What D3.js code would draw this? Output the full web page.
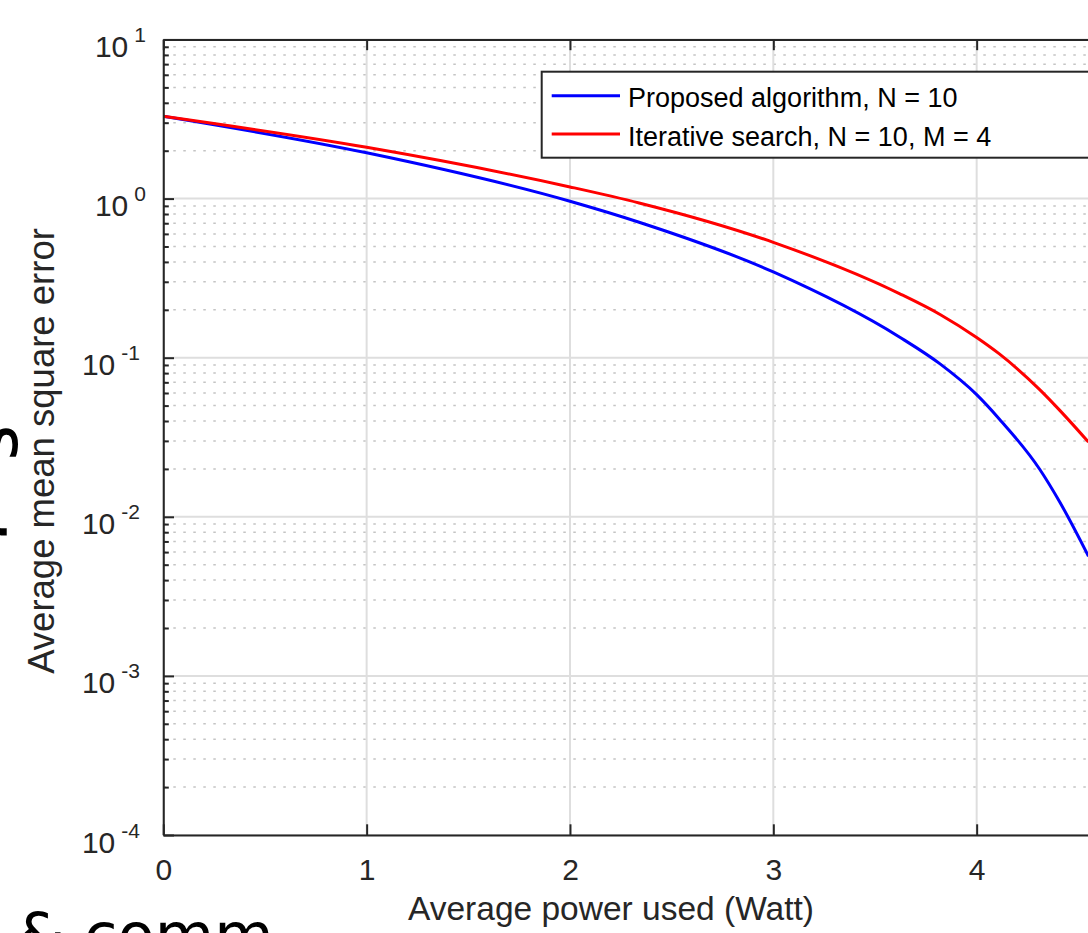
<!DOCTYPE html>
<html>
<head>
<meta charset="utf-8">
<script src="https://cdn.jsdelivr.net/npm/d3@7"></script>
<style>
  body { margin: 0; background: #fff; overflow: hidden; }
  svg { display: block; }
</style>
</head>
<body>
<div id="chartDiv"></div>
<script>

// values
var powerX = [0, 1, 2, 2.34, 3, 3.62, 3.82, 4, 4.11, 4.31, 4.41, 4.55];
var proposedMSE = [3.29, 1.94, 0.962, 0.710, 0.346, 0.135, 0.0914, 0.0586, 0.0414, 0.0199, 0.0123, 0.00565];
var iterativeMSE = [3.29, 2.10, 1.184, 0.939, 0.531, 0.253, 0.187, 0.134, 0.106, 0.0630, 0.0465, 0.0295];

var seriesNames = ["Proposed algorithm, N = 10", "Iterative search, N = 10, M = 4"];
var seriesColors = ["#0000ff", "#ff0000"];
var xTicks = [0, 1, 2, 3, 4];
var yExponents = [-4, -3, -2, -1, 0, 1];

var xLabel = "Average power used (Watt)";
var yLabel = "Average mean square error";

var svg = d3.select("#chartDiv").append("svg")
    .attr("width", 1088)
    .attr("height", 933);

var font = "'Liberation Sans', Arial, Helvetica, sans-serif";
var axisColor = "#262626";

var x_scale = d3.scaleLinear().domain([0, 5]).range([163.3, 1180]);
var y_scale = d3.scaleLog().domain([1e-4, 1e1]).range([835, 39.5]);

var plotLeft = x_scale.range()[0], plotRight = x_scale.range()[1],
    plotTop = y_scale.range()[1], plotBottom = y_scale.range()[0];

var allY = y_scale.ticks();
var majorY = allY.filter(function(v){ return Math.abs(Math.log10(v) - Math.round(Math.log10(v))) < 1e-9; });
var minorY = allY.filter(function(v){ return majorY.indexOf(v) < 0; });

// grid
var grid = svg.append("g").attr("class", "grid");
grid.selectAll(".minor").data(minorY).enter().append("line")
    .attr("x1", plotLeft).attr("x2", plotRight)
    .attr("y1", function(d){ return y_scale(d); })
    .attr("y2", function(d){ return y_scale(d); })
    .attr("stroke", "#c4c4c4")
    .attr("stroke-width", 1.5)
    .attr("stroke-dasharray", "2.5,7.5");
grid.selectAll(".majorh").data(majorY).enter().append("line")
    .attr("x1", plotLeft).attr("x2", plotRight)
    .attr("y1", function(d){ return y_scale(d); })
    .attr("y2", function(d){ return y_scale(d); })
    .attr("stroke", "#dedede")
    .attr("stroke-width", 2);
grid.selectAll(".majorv").data(xTicks).enter().append("line")
    .attr("y1", plotTop).attr("y2", plotBottom)
    .attr("x1", function(d){ return x_scale(d); })
    .attr("x2", function(d){ return x_scale(d); })
    .attr("stroke", "#dedede")
    .attr("stroke-width", 2);

// curves
svg.append("clipPath").attr("id", "plotClip")
  .append("rect").attr("x", plotLeft).attr("y", plotTop)
  .attr("width", plotRight - plotLeft).attr("height", plotBottom - plotTop);

var line = d3.line()
    .x(function(d){ return x_scale(d[0]); })
    .y(function(d){ return y_scale(d[1]); })
    .curve(d3.curveMonotoneX);

[proposedMSE, iterativeMSE].forEach(function(vals, i){
  svg.append("path")
    .datum(powerX.map(function(p, j){ return [p, vals[j]]; }))
    .attr("clip-path", "url(#plotClip)")
    .attr("fill", "none")
    .attr("stroke", seriesColors[i])
    .attr("stroke-width", 3)
    .attr("d", line);
});

// axes
var xAxis = svg.append("g")
    .attr("transform", "translate(0," + plotBottom + ")")
    .call(d3.axisBottom(x_scale).tickValues(xTicks).tickFormat(d3.format("d"))
          .tickSize(-10.7).tickPadding(23.5).tickSizeOuter(0));
var xTop = svg.append("g")
    .attr("transform", "translate(0," + plotTop + ")")
    .call(d3.axisTop(x_scale).tickValues(xTicks).tickSize(-10.7).tickFormat("").tickSizeOuter(0));
var yAxis = svg.append("g")
    .attr("transform", "translate(" + plotLeft + ",0)")
    .call(d3.axisLeft(y_scale).tickValues(majorY).tickSize(-10.7).tickFormat("").tickSizeOuter(0));
var yMinor = svg.append("g")
    .attr("transform", "translate(" + plotLeft + ",0)")
    .call(d3.axisLeft(y_scale).tickValues(minorY).tickSize(-5.5).tickFormat("").tickSizeOuter(0));

[xAxis, xTop, yAxis, yMinor].forEach(function(g){
  g.selectAll("path").attr("stroke", axisColor).attr("stroke-width", 2);
  g.selectAll("line").attr("stroke", axisColor).attr("stroke-width", 2);
});
yMinor.select("path").remove();

xAxis.selectAll("text")
    .attr("font-family", font)
    .attr("font-size", 30)
    .attr("fill", axisColor);

// y tick labels with superscript exponents
svg.append("g").selectAll("text").data(yExponents).enter().append("text")
    .attr("x", function(d){ return d < 0 ? 140 : 146; })
    .attr("y", function(d){ return y_scale(Math.pow(10, d)) + 17.5; })
    .attr("text-anchor", "end")
    .attr("font-family", font)
    .attr("font-size", 30)
    .attr("fill", axisColor)
    .each(function(d){
      var t = d3.select(this);
      t.append("tspan").text("10");
      t.append("tspan").attr("dx", 6).attr("dy", -15).attr("font-size", 21).text(String(d));
    });

// axis labels
svg.append("text")
    .attr("x", 408).attr("y", 920)
    .attr("font-family", font).attr("font-size", 33.5)
    .attr("fill", axisColor)
    .text(xLabel);

svg.append("text")
    .attr("transform", "translate(54,451) rotate(-90)")
    .attr("text-anchor", "middle")
    .attr("font-family", font).attr("font-size", 36.5)
    .attr("fill", axisColor)
    .text(yLabel);

// legend
var legend = svg.append("g").attr("class", "legend");
legend.append("rect")
    .attr("x", 541.7).attr("y", 71.7)
    .attr("width", 560).attr("height", 86)
    .attr("fill", "#fff")
    .attr("stroke", axisColor)
    .attr("stroke-width", 2);
seriesNames.forEach(function(name, i){
  var ly = 95.7 + i * 38.3;
  legend.append("line")
    .attr("x1", 551.7).attr("x2", 620)
    .attr("y1", ly).attr("y2", ly)
    .attr("stroke", seriesColors[i]).attr("stroke-width", 3);
  legend.append("text")
    .attr("x", 628).attr("y", ly + 11.5)
    .attr("font-family", font).attr("font-size", 27)
    .attr("fill", "#000")
    .text(name);
});

// cropped page text around the figure
svg.append("text")
    .attr("x", 17).attr("y", 956)
    .attr("font-family", "'DejaVu Sans', sans-serif")
    .attr("font-size", 61)
    .attr("fill", "#000")
    .text("& comm");
svg.append("text")
    .attr("transform", "translate(-24,424) rotate(90)")
    .attr("font-family", "'DejaVu Sans', sans-serif")
    .attr("font-size", 74)
    .attr("fill", "#000")
    .text("s");
svg.append("text")
    .attr("transform", "translate(-2,520) rotate(90)")
    .attr("font-family", "'DejaVu Sans', sans-serif")
    .attr("font-size", 70)
    .attr("fill", "#000")
    .text(",");

</script>
</body>
</html>
